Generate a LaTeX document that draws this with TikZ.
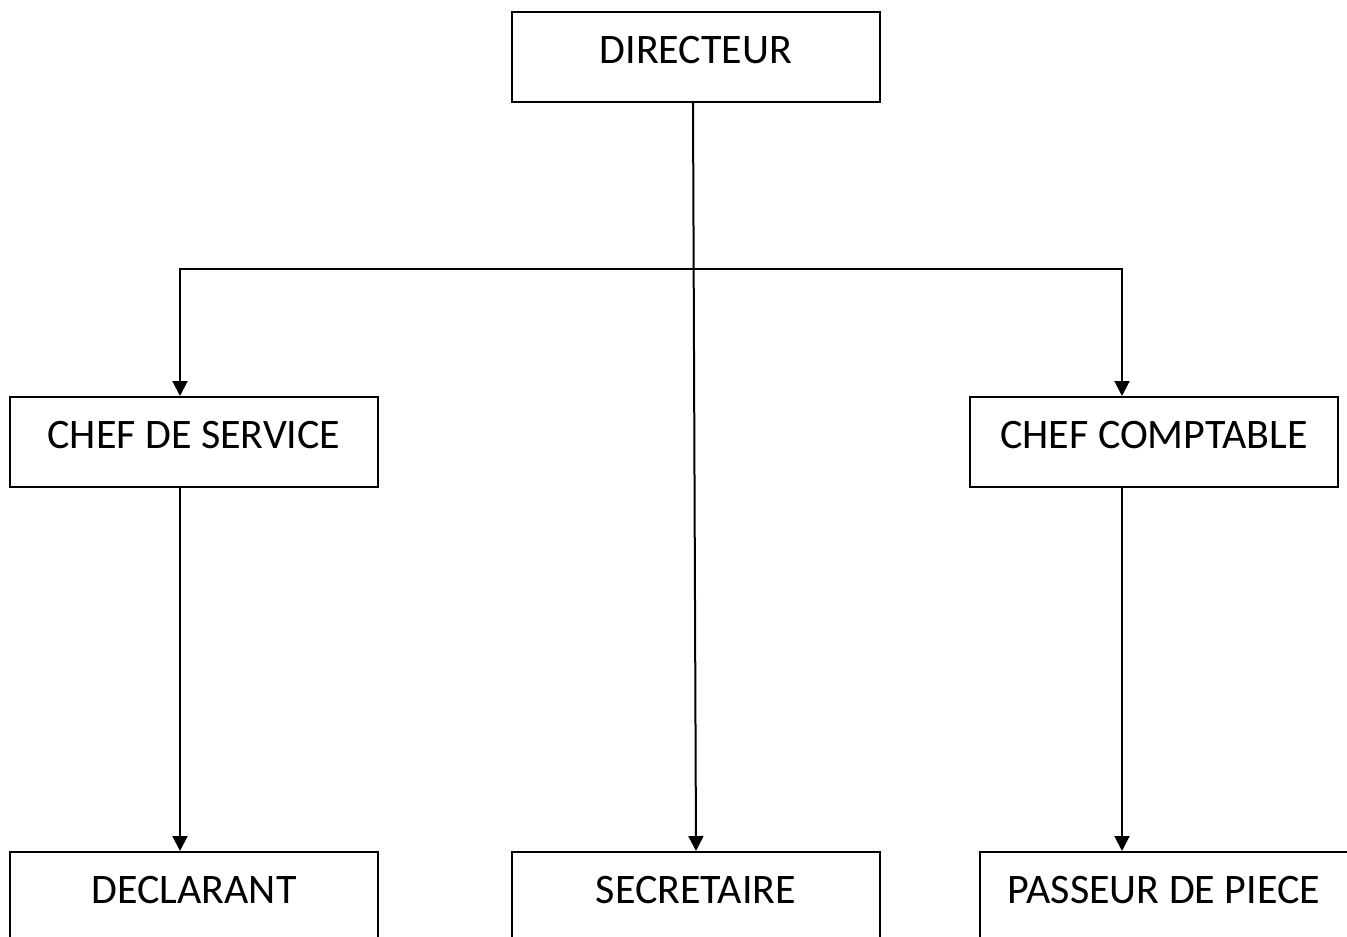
\documentclass[tikz,border=0pt]{standalone}
\usepackage{fontspec}
\setmainfont{Carlito}
\usetikzlibrary{arrows.meta}
\begin{document}
\begin{tikzpicture}[x=1pt,y=-1pt,
  box/.style={draw,line width=1.8pt,anchor=north,minimum width=368pt,inner sep=0pt,
    text height=52pt,text depth=38pt,font=\fontsize{42}{48}\selectfont},
  conn/.style={line width=2pt},
  arr/.style={conn,-{Triangle[width=15pt,length=15pt]}}]
\useasboundingbox (0,0) rectangle (1347,937);
\node[box] (dir) at (696,11) {DIRECTEUR};
\node[box] (cs) at (194,396) {CHEF DE SERVICE};
\node[box] (cc) at (1154,396) {CHEF COMPTABLE};
\node[box] (dec) at (194,851) {DECLARANT};
\node[box] (sec) at (696,851) {SECRETAIRE};
\node[box] (pas) at (1164,851) {PASSEUR DE PIECE};
\coordinate (busL) at (180,269);
\coordinate (busR) at (1122,269);
\draw[arr] ([xshift=-3pt]dir.south) -- (sec.north);
\draw[conn] ([xshift=-1pt]busL) -- ([xshift=1pt]busR);
\draw[arr] (busL) -- (busL |- cs.north);
\draw[arr] (busR) -- (busR |- cc.north);
\draw[arr] (busL |- cs.south) -- (busL |- dec.north);
\draw[arr] (busR |- cc.south) -- (busR |- pas.north);
\end{tikzpicture}
\end{document}
